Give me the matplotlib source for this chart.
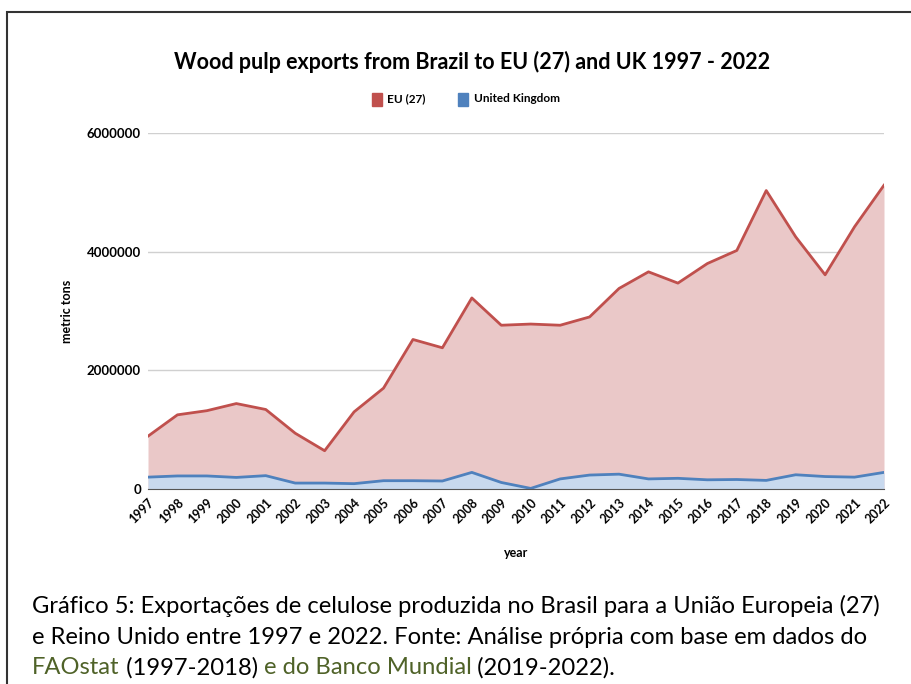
import matplotlib
matplotlib.use("Agg")
from matplotlib import pyplot as plt
from matplotlib.patches import Rectangle

years = list(range(1997, 2023))
eu_27 = [890000, 1250000, 1320000, 1440000, 1340000, 940000, 645000, 1300000,
         1700000, 2520000, 2380000, 3220000, 2760000, 2780000, 2760000, 2900000,
         3380000, 3660000, 3470000, 3800000, 4020000, 5030000, 4250000, 3610000,
         4420000, 5120000]
uk = [200000, 220000, 220000, 195000, 225000, 100000, 100000, 90000,
      140000, 140000, 135000, 280000, 110000, 10000, 170000, 235000,
      250000, 170000, 180000, 155000, 160000, 145000, 240000, 210000,
      200000, 280000]
y_ticks = [0, 2000000, 4000000, 6000000]

plt.rcParams['font.family'] = ['Lato', 'DejaVu Sans']

fig = plt.figure(figsize=(9.11, 6.84), dpi=100)
ax = fig.add_axes([148 / 911, 195 / 684, 736 / 911, 356 / 684])

red = '#c0504d'
blue = '#4f81bd'
ax.fill_between(years, 0, eu_27, color='#eac8c8', lw=0, zorder=2)
ax.plot(years, eu_27, color=red, lw=2, zorder=4)
ax.fill_between(years, 0, uk, color='#c8d9ee', lw=0, zorder=3)
ax.plot(years, uk, color=blue, lw=2, zorder=4)

ax.set_xlim(1997, 2022)
ax.set_ylim(0, 6000000)
ax.set_yticks(y_ticks)
ax.set_yticklabels([str(v) for v in y_ticks], fontweight='bold', fontsize=9.5)
ax.set_xticks(years)
ax.set_xticklabels([str(y) for y in years], rotation=45, ha='right',
                   rotation_mode='anchor', fontweight='bold', fontsize=9)
ax.tick_params(length=0, pad=5)
ax.grid(axis='y', color='#d0d0d0', lw=1, zorder=1)
for s in ['top', 'right', 'left']:
    ax.spines[s].set_visible(False)
ax.spines['bottom'].set_color('#555555')
ax.spines['bottom'].set_zorder(5)

ax.set_ylabel('metric tons', fontweight='bold', fontsize=9, labelpad=10)
ax.set_xlabel('year', fontweight='bold', fontsize=9, labelpad=16)

fig.text(472 / 911, 1 - 62 / 684, 'Wood pulp exports from Brazil to EU (27) and UK 1997 - 2022',
         ha='center', va='center', fontweight='bold', fontsize=15.5)

# legend
fig.patches.append(Rectangle((372 / 911, 1 - 106 / 684), 10 / 911, 13 / 684,
                             transform=fig.transFigure, color=red))
fig.text(387 / 911, 1 - 99 / 684, 'EU (27)', ha='left', va='center',
         fontweight='bold', fontsize=8.5)
fig.patches.append(Rectangle((458 / 911, 1 - 106 / 684), 10 / 911, 13 / 684,
                             transform=fig.transFigure, color=blue))
fig.text(474 / 911, 1 - 99 / 684, 'United Kingdom', ha='left', va='center',
         fontweight='bold', fontsize=8.5)

# border box
fig.patches.append(Rectangle((7 / 911, -0.05), 1.1, 1 - 12 / 684 + 0.05,
                             transform=fig.transFigure, fill=False,
                             edgecolor='#333333', lw=1.5))

# caption
green = '#4f6228'
cap_size = 17.1
fig.text(32 / 911, 1 - 606 / 684,
         'Gráfico 5: Exportações de celulose produzida no Brasil para a União Europeia (27)',
         ha='left', va='center', fontsize=cap_size)
fig.text(32 / 911, 1 - 637 / 684,
         'e Reino Unido entre 1997 e 2022. Fonte: Análise própria com base em dados do',
         ha='left', va='center', fontsize=cap_size)

renderer = fig.canvas.get_renderer()
x = 32
parts = [('FAOstat', green), (' (1997-2018) ', 'black'),
         ('e do Banco Mundial', green), (' (2019-2022).', 'black')]
for txt, col in parts:
    t = fig.text(x / 911, 1 - 668 / 684, txt, ha='left', va='center',
                 fontsize=cap_size, color=col)
    bb = t.get_window_extent(renderer=renderer)
    x = bb.x1

fig.savefig('out.png', dpi=100)
